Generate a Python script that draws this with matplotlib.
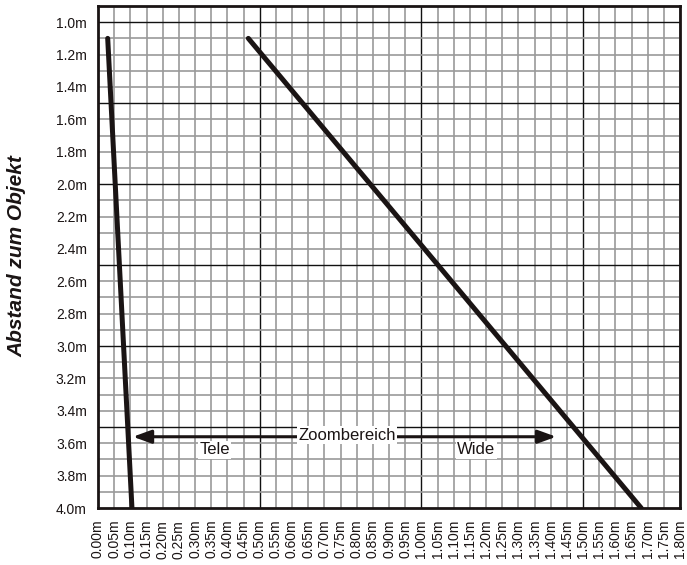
import matplotlib
matplotlib.use("Agg")
import matplotlib.pyplot as plt
import numpy as np

plt.rcParams['font.family'] = ['Liberation Sans', 'DejaVu Sans']

# Data
tele_x = [0.03, 0.105]
tele_y = [1.1, 4.0]
wide_x = [0.465, 1.68]
wide_y = [1.1, 4.0]
y_ticks = [1.0, 1.2, 1.4, 1.6, 1.8, 2.0, 2.2, 2.4, 2.6, 2.8, 3.0, 3.2, 3.4, 3.6, 3.8, 4.0]
x_ticks = [round(0.05 * i, 2) for i in range(37)]
zoom_arrow_y = 3.56
zoom_arrow_x = [0.108, 1.417]

fig = plt.figure(figsize=(6.87, 5.65), dpi=100)
ax = fig.add_axes([98/687, 1 - 508/565, (680-98)/687, (508-6)/565])

ax.set_xlim(0, 1.8)
ax.set_ylim(4.0, 0.9)

# grid
for xv in x_ticks:
    major = abs(xv * 2 - round(xv * 2)) < 1e-6 and xv not in (0.0, 1.8)
    ax.axvline(xv, color='#111111' if major else '#9a9a9a', lw=1.0 if major else 1.2, zorder=1)
for yv in np.round(np.arange(1.0, 4.0, 0.1), 2):
    major = abs(yv * 2 - round(yv * 2)) < 1e-6
    ax.axhline(yv, color='#111111' if major else '#9a9a9a', lw=1.0 if major else 1.2, zorder=1)

ax.plot(tele_x, tele_y, color='#1a1414', lw=3.6, solid_capstyle='round', zorder=3)
ax.plot(wide_x, wide_y, color='#1a1414', lw=3.6, solid_capstyle='round', zorder=3)

# Zoom arrow
astyle = '-|>,head_length=1.1,head_width=0.4'
for tip in zoom_arrow_x:
    ax.annotate('', xy=(tip, zoom_arrow_y), xytext=(0.77, zoom_arrow_y),
                arrowprops=dict(arrowstyle=astyle, color='#1a1414', lw=2.2,
                                shrinkA=0, shrinkB=0), zorder=4)
bbox = dict(facecolor='white', edgecolor='none', pad=1.0)
ax.text(0.77, zoom_arrow_y - 0.01, 'Zoombereich', ha='center', va='center', fontsize=12,
        color='#1a1414', bbox=bbox, zorder=5)
ax.text(0.36, 3.64, 'Tele', ha='center', va='center', fontsize=12, color='#1a1414', bbox=bbox, zorder=5)
ax.text(1.17, 3.64, 'Wide', ha='center', va='center', fontsize=12, color='#1a1414', bbox=bbox, zorder=5)

ax.set_yticks(y_ticks)
ax.set_yticklabels([f'{v:.1f}m' for v in y_ticks], fontsize=10, color='#1a1414')
ax.set_xticks(x_ticks)
ax.set_xticklabels([f'{v:.2f}m' for v in x_ticks], rotation=90, fontsize=10, color='#1a1414')
ax.tick_params(length=0, pad=8)
ax.tick_params(axis='x', pad=8.5)

for s in ax.spines.values():
    s.set_linewidth(2.0)
    s.set_color('#1a1414')
    s.set_zorder(6)

fig.text(17/687, 1 - 256/565, 'Abstand zum Objekt', rotation=90, ha='center', va='center',
         fontsize=15, fontweight='bold', fontstyle='italic', color='#1a1414')

fig.savefig('out.png', dpi=100)
